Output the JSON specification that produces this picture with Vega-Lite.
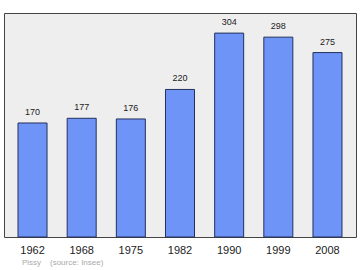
{
  "$schema": "https://vega.github.io/schema/vega-lite/v6.json",
  "width": 352,
  "height": 224,
  "autosize": "none",
  "padding": {"left": 4, "top": 13, "right": 4, "bottom": 33},
  "background": "white",
  "config": {
    "view": {"fill": "#eeeeee", "stroke": "#444444", "strokeWidth": 1}
  },
  "title": {
    "text": "Pissy\u00a0\u00a0\u00a0\u00a0(source: Insee)",
    "orient": "bottom",
    "anchor": "start",
    "dx": 18,
    "offset": 4,
    "fontSize": 8,
    "font": "Liberation Sans",
    "fontWeight": "normal",
    "color": "#aaaaaa"
  },
  "data": {
    "values": [
      {"year": "1962", "pop": 170},
      {"year": "1968", "pop": 177},
      {"year": "1975", "pop": 176},
      {"year": "1982", "pop": 220},
      {"year": "1990", "pop": 304},
      {"year": "1999", "pop": 298},
      {"year": "2008", "pop": 275}
    ]
  },
  "encoding": {
    "x": {
      "field": "year",
      "type": "ordinal",
      "scale": {"paddingInner": 0.41, "paddingOuter": 0.285},
      "axis": {
        "title": null,
        "labelAngle": 0,
        "ticks": false,
        "domain": false,
        "labelFontSize": 11,
        "labelFont": "Liberation Sans",
        "labelColor": "#222222",
        "labelPadding": 7
      }
    },
    "y": {
      "field": "pop",
      "type": "quantitative",
      "scale": {"domain": [0, 334], "nice": false},
      "axis": null
    }
  },
  "layer": [
    {
      "mark": {"type": "bar", "fill": "#6f94f8", "stroke": "#23305c", "strokeWidth": 1}
    },
    {
      "mark": {"type": "text", "baseline": "bottom", "dy": -6, "fontSize": 9, "font": "Liberation Sans", "color": "#222222"},
      "encoding": {"text": {"field": "pop", "type": "quantitative"}}
    }
  ]
}
